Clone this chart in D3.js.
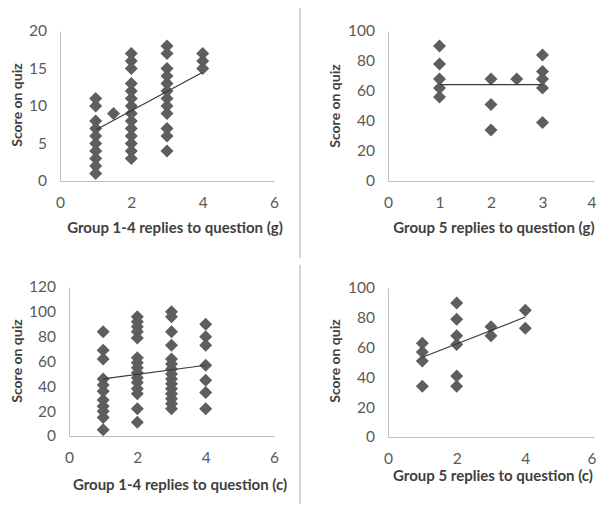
<!DOCTYPE html>
<html>
<head>
<meta charset="utf-8">
<script src="https://cdn.jsdelivr.net/npm/d3@7"></script>
<style>
  body { margin: 0; background: #fff; }
  text { font-family: Lato, "Open Sans", sans-serif; }
</style>
</head>
<body>
<svg id="chart" width="596" height="514"></svg>
<script>
// scores, one [replies, score] pair per diamond
const col = (x, ys) => ys.map(y => [x, y])

const g14Points = [
  ...col(1, [1, 2, 3, 4, 5, 6, 7, 8, 10, 11]),
  ...col(1.5, [9]),
  ...col(2, [3, 4, 5, 6, 7, 8, 9, 10, 11, 12, 13, 15, 16, 17]),
  ...col(3, [4, 6, 7, 9, 10, 11, 12, 13, 14, 15, 17, 18]),
  ...col(4, [15, 16, 17])
]
const g14Trend = [[1, 6.8], [4, 14.5]]

const g5Points = [
  ...col(1, [90, 78, 68, 62, 56]),
  ...col(2, [68, 51, 34]),
  ...col(2.5, [68]),
  ...col(3, [84, 73, 68, 62, 39])
]
const g5Trend = [[1, 64.3], [3, 64.3]]

const c14Points = [
  ...col(1, [84, 69, 62, 46, 41, 36, 29, 24, 20, 15, 5]),
  ...col(2, [96, 92, 88, 84, 79, 63, 59, 55, 51, 47, 43, 38, 34, 22, 11]),
  ...col(3, [100, 96, 84, 73, 62, 58, 54, 50, 46, 42, 38, 34, 30, 26, 22]),
  ...col(4, [90, 80, 73, 57, 45, 35, 22])
]
const c14Trend = [[1, 46], [4, 57]]

const c5Points = [
  ...col(1, [63, 57, 51, 34]),
  ...col(2, [90, 79, 68, 62, 41, 34]),
  ...col(3, [74, 68]),
  ...col(4, [85, 73])
]
const c5Trend = [[1, 53.5], [4, 80.5]]

const ticks6 = [0, 2, 4, 6]
const ticks4 = [0, 1, 2, 3, 4]
const ticks20 = [0, 5, 10, 15, 20]
const ticks100 = [0, 20, 40, 60, 80, 100]
const ticks120 = [0, 20, 40, 60, 80, 100, 120]

const yTitle = 'Score on quiz'

const panels = [
  { pts: g14Points, trend: g14Trend, xDom: [0, 6], yDom: [0, 20], xTicks: ticks6, yTicks: ticks20,
    xr: [60, 274], yr: [181, 31], xTitle: 'Group 1-4 replies to question (g)', xt: [175, 228], yt: [17, 105] },
  { pts: g5Points, trend: g5Trend, xDom: [0, 4], yDom: [0, 100], xTicks: ticks4, yTicks: ticks100,
    xr: [388, 594], yr: [181, 31], xTitle: 'Group 5 replies to question (g)', xt: [494, 228], yt: [335, 106] },
  { pts: c14Points, trend: c14Trend, xDom: [0, 6], yDom: [0, 120], xTicks: ticks6, yTicks: ticks120,
    xr: [69, 274], yr: [436, 287], xTitle: 'Group 1-4 replies to question (c)', xt: [180, 485], yt: [17, 361] },
  { pts: c5Points, trend: c5Trend, xDom: [0, 6], yDom: [0, 100], xTicks: ticks6, yTicks: ticks100,
    xr: [388, 594], yr: [437, 288], xTitle: 'Group 5 replies to question (c)', xt: [493, 476], yt: [335, 361] }
]

const svg = d3.select('#chart')

// grey dividers between the left and right columns
svg.append('line').attr('x1', 300).attr('x2', 300).attr('y1', 8).attr('y2', 258)
  .attr('stroke', '#d4d4d4').attr('stroke-width', 2)
svg.append('line').attr('x1', 300).attr('x2', 300).attr('y1', 265).attr('y2', 504)
  .attr('stroke', '#d4d4d4').attr('stroke-width', 2)

const diamond = r => `M0,${-r}L${r},0L0,${r}L${-r},0Z`

panels.forEach(p => {
  const x = d3.scaleLinear().domain(p.xDom).range(p.xr)
  const y = d3.scaleLinear().domain(p.yDom).range(p.yr)
  const g = svg.append('g')

  const xAxis = g.append('g').attr('transform', `translate(0,${p.yr[0]})`)
    .call(d3.axisBottom(x).tickValues(p.xTicks).tickFormat(d3.format('d')).tickSize(0).tickPadding(16))
  const yAxis = g.append('g').attr('transform', `translate(${p.xr[0]},0)`)
    .call(d3.axisLeft(y).tickValues(p.yTicks).tickFormat(d3.format('d')).tickSize(0).tickPadding(13))

  ;[xAxis, yAxis].forEach(a => {
    a.select('.domain').attr('stroke', '#bfbfbf')
    a.selectAll('text').attr('fill', '#595959').style('font-size', '15.5px')
  })
  // right-most label sits on the page edge, keep it inside
  if (p.xr[1] > 590) {
    xAxis.selectAll('.tick:last-of-type text').attr('text-anchor', 'end').attr('x', 2)
  }

  g.selectAll('path.pt').data(p.pts).join('path')
    .attr('class', 'pt')
    .attr('d', diamond(6.5))
    .attr('transform', d => `translate(${x(d[0])},${y(d[1])})`)
    .attr('fill', '#5e5e5e')

  g.append('path').datum(p.trend)
    .attr('d', d3.line().x(d => x(d[0])).y(d => y(d[1])))
    .attr('fill', 'none').attr('stroke', '#3a3a3a').attr('stroke-width', 1.2)

  g.append('text').attr('x', p.xt[0]).attr('y', p.xt[1]).attr('dy', '0.35em')
    .attr('text-anchor', 'middle').attr('fill', '#404040')
    .style('font-size', '15px').style('font-weight', 'bold')
    .text(p.xTitle)

  g.append('text').attr('transform', `translate(${p.yt[0]},${p.yt[1]}) rotate(-90)`)
    .attr('dy', '0.35em').attr('text-anchor', 'middle').attr('fill', '#404040')
    .style('font-size', '14px').style('font-weight', 'bold')
    .text(yTitle)
})
</script>
</body>
</html>
